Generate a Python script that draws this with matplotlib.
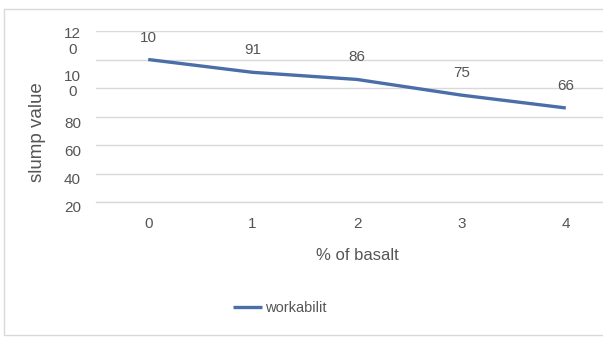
import matplotlib
matplotlib.use("Agg")
import matplotlib.pyplot as plt
import matplotlib.transforms as mtransforms
from matplotlib.patches import Rectangle

plt.rcParams['font.family'] = ['Liberation Sans', 'DejaVu Sans']

# Data
basalt_pct = ["0", "1", "2", "3", "4"]
workability = [100, 91, 86, 75, 66]
point_labels = ["10", "91", "86", "75", "66"]
series_name = "workabilit"

ytick_values = [20, 40, 60, 80, 100, 120]
ytick_labels = ["20", "40", "60", "80", "10\n0", "12\n0"]
# downward shift of each y tick label, in pixels
ytick_shift_px = [34, 35, 36, 36, 25, 11]

TEXT = "#555555"
GRID = "#d9d9d9"
LINE = "#4a6ea8"

W, H, DPI = 603, 337, 100
fig = plt.figure(figsize=(W / DPI, H / DPI), dpi=DPI, facecolor="white")

# outer chart frame
fig.patches.append(Rectangle((4 / W, (H - 335) / H), 1.2, (335 - 9) / H,
                             transform=fig.transFigure, fill=False,
                             edgecolor=GRID, linewidth=1.0, clip_on=False))

left, right, y0, y120 = 96, 618, 202, 31
ax = fig.add_axes([left / W, (H - y0) / H, (right - left) / W, (y0 - y120) / H])
ax.set_facecolor("none")

x = list(range(len(basalt_pct)))
ax.plot(x, workability, color=LINE, linewidth=2.4, solid_capstyle="butt",
        label=series_name, zorder=3)

for xi, v, lab in zip(x, workability, point_labels):
    ax.annotate(lab, (xi, v), xytext=(0, 22 * 72 / DPI), textcoords="offset points",
                ha="center", va="center", fontsize=11, color=TEXT)

ax.set_xlim(-0.5, len(x) - 0.5)
ax.set_ylim(0, 120)
ax.set_yticks([0] + ytick_values)
ax.set_yticklabels([])
ax.grid(axis="y", color=GRID, linewidth=1.0)
ax.set_axisbelow(True)
for s in ["top", "right", "left"]:
    ax.spines[s].set_visible(False)
ax.spines["bottom"].set_color(GRID)
ax.spines["bottom"].set_linewidth(1.0)
ax.tick_params(axis="both", length=0)

ax.set_xticks(x)
ax.set_xticklabels(basalt_pct, fontsize=11, color=TEXT)
ax.tick_params(axis="x", pad=11)

# y tick labels
trans_base = mtransforms.blended_transform_factory(ax.transAxes, ax.transData)
for v, lab, sh in zip(ytick_values, ytick_labels, ytick_shift_px):
    t = trans_base + mtransforms.ScaledTranslation(-15 / DPI, -sh / DPI, fig.dpi_scale_trans)
    ax.text(0, v, lab, transform=t, ha="right", va="center", fontsize=11,
            color=TEXT, linespacing=1.1, multialignment="center")

ax.set_xlabel("% of basalt", fontsize=12, color=TEXT)
ax.xaxis.set_label_coords((357 - left) / (right - left), (y0 - 255) / (y0 - y120))
ax.xaxis.label.set_va("center")
ax.set_ylabel("slump value", fontsize=13.5, color=TEXT)
ax.yaxis.set_label_coords((38 - left) / (right - left), (y0 - 132) / (y0 - y120))
ax.yaxis.label.set_va("center")

fig.legend(loc="center", bbox_to_anchor=(280 / W, (H - 308) / H), frameon=False,
           fontsize=10.5, handlelength=2.0, handletextpad=0.2, labelcolor=TEXT)

fig.savefig("out.png", dpi=DPI, facecolor="white")
